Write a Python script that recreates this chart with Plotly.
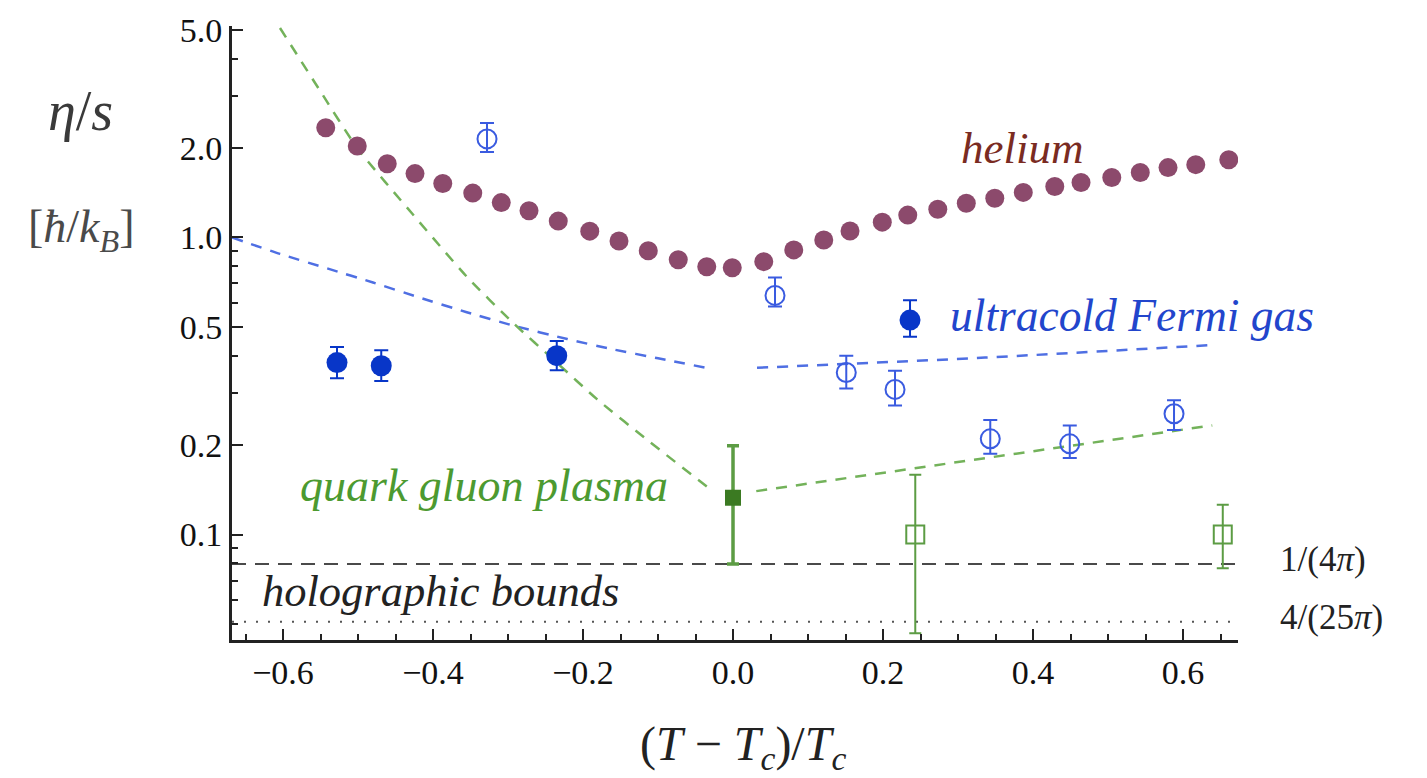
import plotly.graph_objects as go

# ---------------- data ----------------
helium_x = [-0.543, -0.501, -0.461, -0.424, -0.387, -0.347, -0.309, -0.272, -0.233, -0.191,
            -0.152, -0.113, -0.073, -0.035, -0.001, 0.041, 0.081, 0.121, 0.156, 0.199,
            0.233, 0.273, 0.311, 0.349, 0.387, 0.429, 0.464, 0.505, 0.543, 0.580, 0.617, 0.661]
helium_y = [2.34, 2.03, 1.77, 1.64, 1.52, 1.41, 1.31, 1.23, 1.135, 1.05,
            0.973, 0.902, 0.841, 0.797, 0.791, 0.829, 0.908, 0.981, 1.051, 1.126,
            1.189, 1.245, 1.303, 1.354, 1.418, 1.485, 1.531, 1.591, 1.653, 1.718, 1.758, 1.827]

fermi_filled_x = [-0.528, -0.469, -0.235, 0.236]
fermi_filled_y = [0.379, 0.370, 0.400, 0.527]
fermi_filled_up = [0.049, 0.047, 0.048, 0.087]
fermi_filled_dn = [0.043, 0.041, 0.043, 0.064]

fermi_open_x = [-0.328, 0.056, 0.151, 0.216, 0.343, 0.449, 0.588]
fermi_open_y = [2.146, 0.638, 0.351, 0.308, 0.210, 0.202, 0.255]
fermi_open_up = [0.284, 0.095, 0.049, 0.048, 0.033, 0.031, 0.028]
fermi_open_dn = [0.206, 0.052, 0.041, 0.036, 0.023, 0.021, 0.030]

fermi_theory_lo_x = [-0.668, -0.604, -0.540, -0.480, -0.420, -0.355, -0.293, -0.221, -0.160, -0.100, -0.031]
fermi_theory_lo_y = [1.00, 0.880, 0.785, 0.705, 0.630, 0.560, 0.505, 0.455, 0.420, 0.392, 0.362]
fermi_theory_hi_x = [0.032, 0.336, 0.644]
fermi_theory_hi_y = [0.364, 0.394, 0.435]

qgp_theory_lo_x = [-0.604, -0.551, -0.501, -0.427, -0.355, -0.293, -0.235, -0.181, -0.111, -0.027]
qgp_theory_lo_y = [5.07, 3.13, 2.00, 1.197, 0.738, 0.515, 0.379, 0.285, 0.205, 0.140]
qgp_theory_hi_x = [0.031, 0.639]
qgp_theory_hi_y = [0.140, 0.233]

qgp_filled_x = [0.0]
qgp_filled_y = [0.133]
qgp_filled_up = [0.066]
qgp_filled_dn = [0.0534]

qgp_open_x = [0.243, 0.653]
qgp_open_y = [0.100, 0.100]
qgp_open_up = [0.059, 0.026]
qgp_open_dn = [0.0535, 0.023]

bound_names = ["1/(4π)", "4/(25π)"]
bound_values = [0.0796, 0.0509]

x_ticks = [-0.6, -0.4, -0.2, 0.0, 0.2, 0.4, 0.6]
y_ticks = [0.1, 0.2, 0.5, 1.0, 2.0, 5.0]
y_ticklabels = ["0.1", "0.2", "0.5", "1.0", "2.0", "5.0"]
y_minor = [0.05, 0.06, 0.07, 0.08, 0.09, 0.3, 0.4, 0.6, 0.7, 0.8, 0.9, 3.0, 4.0]

# ---------------- layout geometry ----------------
W, H = 1427, 778
L, R, T, B = 232, 1238, 20, 640
XR = [-0.668, 0.6733]
YR = [-1.355, 0.7117]

def px(xp):
    return (xp - L) / (R - L)

def py(yp):
    return (B - yp) / (B - T)

SERIF = '"Liberation Serif", "DejaVu Serif", serif'

BLUE_DARK = "#0836c8"
BLUE_OPEN = "#3a5be0"
BLUE_LINE = "#4f6fe3"
GREEN_DARK = "#3b7a22"
GREEN_BAR = "#5c9c44"
GREEN_LINE = "#73b25a"
HELIUM = "#8c4a6c"

fig = go.Figure()

# holographic bounds
fig.add_trace(go.Scatter(x=[XR[0], XR[1]], y=[bound_values[0]] * 2, mode="lines",
                         line=dict(color="#4a4a4a", width=2, dash="14px,9px"),
                         hoverinfo="skip", showlegend=False))
fig.add_trace(go.Scatter(x=[XR[0], XR[1]], y=[bound_values[1]] * 2, mode="lines",
                         line=dict(color="#555555", width=2, dash="2px,10px"),
                         hoverinfo="skip", showlegend=False))

# theory curves
for xs, ys, col in [(fermi_theory_lo_x, fermi_theory_lo_y, BLUE_LINE),
                    (fermi_theory_hi_x, fermi_theory_hi_y, BLUE_LINE),
                    (qgp_theory_lo_x, qgp_theory_lo_y, GREEN_LINE),
                    (qgp_theory_hi_x, qgp_theory_hi_y, GREEN_LINE)]:
    fig.add_trace(go.Scatter(x=xs, y=ys, mode="lines",
                             line=dict(color=col, width=2.5, dash="11px,9px", shape="spline", smoothing=0.6),
                             hoverinfo="skip", showlegend=False))

# helium
fig.add_trace(go.Scatter(x=helium_x, y=helium_y, mode="markers",
                         marker=dict(color=HELIUM, size=19, line=dict(width=0)),
                         showlegend=False))

# QGP data
fig.add_trace(go.Scatter(x=qgp_open_x, y=qgp_open_y, mode="markers",
                         marker=dict(symbol="square-open", color=GREEN_BAR, size=18,
                                     line=dict(color=GREEN_BAR, width=2)),
                         error_y=dict(type="data", array=qgp_open_up, arrayminus=qgp_open_dn,
                                      color=GREEN_BAR, thickness=2, width=6),
                         showlegend=False))
fig.add_trace(go.Scatter(x=qgp_filled_x, y=qgp_filled_y, mode="markers",
                         marker=dict(symbol="square", color=GREEN_DARK, size=16),
                         error_y=dict(type="data", array=qgp_filled_up, arrayminus=qgp_filled_dn,
                                      color=GREEN_BAR, thickness=3.5, width=6),
                         showlegend=False))

# Fermi gas data
fig.add_trace(go.Scatter(x=fermi_open_x, y=fermi_open_y, mode="markers",
                         marker=dict(symbol="circle-open", color=BLUE_OPEN, size=19,
                                     line=dict(color=BLUE_OPEN, width=2)),
                         error_y=dict(type="data", array=fermi_open_up, arrayminus=fermi_open_dn,
                                      color=BLUE_OPEN, thickness=2, width=7),
                         showlegend=False))
fig.add_trace(go.Scatter(x=fermi_filled_x, y=fermi_filled_y, mode="markers",
                         marker=dict(symbol="circle", color=BLUE_DARK, size=21),
                         error_y=dict(type="data", array=fermi_filled_up, arrayminus=fermi_filled_dn,
                                      color=BLUE_DARK, thickness=2, width=7),
                         showlegend=False))

ann = []
def add_text(text, xp, yp, size, color, xanchor="center", yanchor="middle"):
    ann.append(dict(text=text, x=px(xp), y=py(yp), xref="paper", yref="paper",
                    xanchor=xanchor, yanchor=yanchor, showarrow=False,
                    font=dict(family=SERIF, size=size, color=color)))

add_text("<i>helium</i>", 1022, 143, 45, "#7a2b22")
add_text("<i>ultracold Fermi gas</i>", 948, 312, 45.5, "#2245cc", xanchor="left")
add_text("<i>quark gluon plasma</i>", 298, 484, 46, "#4c9a30", xanchor="left")
add_text("<i>holographic bounds</i>", 260, 591, 44.5, "#222222", xanchor="left")
add_text("1/(4<i>π</i>)", 1278, 559, 35, "#222222", xanchor="left")
add_text("4/(25<i>π</i>)", 1278, 617, 35, "#222222", xanchor="left")
add_text("<i>η</i>/<i>s</i>", 80, 106, 56, "#3a3a3a")
add_text("[<i>ħ</i>/<i>k</i><sub><i>B</i></sub>]", 81, 226, 46, "#4a4a4a")
add_text("(<i>T</i> − <i>T</i><sub><i>c</i></sub>)/<i>T</i><sub><i>c</i></sub>", 743, 748, 48, "#222222")

fig.update_layout(
    width=W, height=H,
    margin=dict(l=L, r=W - R, t=T, b=H - B, pad=0),
    paper_bgcolor="white", plot_bgcolor="white",
    font=dict(family=SERIF),
    annotations=ann,
    xaxis=dict(range=XR, showgrid=False, zeroline=False,
               showline=True, linecolor="#222222", linewidth=3,
               ticks="inside", ticklen=11, tickwidth=2, tickcolor="#222222",
               tickmode="array", tickvals=x_ticks, tickformat=".1f",
               tickfont=dict(family=SERIF, size=34, color="#111111"),
               minor=dict(dtick=0.05, tick0=0, ticks="inside", ticklen=6, tickwidth=2,
                          tickcolor="#222222", showgrid=False),
               mirror=False),
    yaxis=dict(type="log", range=YR, showgrid=False, zeroline=False,
               showline=True, linecolor="#222222", linewidth=3,
               ticks="inside", ticklen=11, tickwidth=2, tickcolor="#222222",
               tickmode="array", tickvals=y_ticks, ticktext=y_ticklabels,
               tickfont=dict(family=SERIF, size=34, color="#111111"),
               minor=dict(tickmode="array", tickvals=y_minor, ticks="inside", ticklen=6,
                          tickwidth=2, tickcolor="#222222", showgrid=False),
               mirror=False),
)

fig.write_html("out.html")
